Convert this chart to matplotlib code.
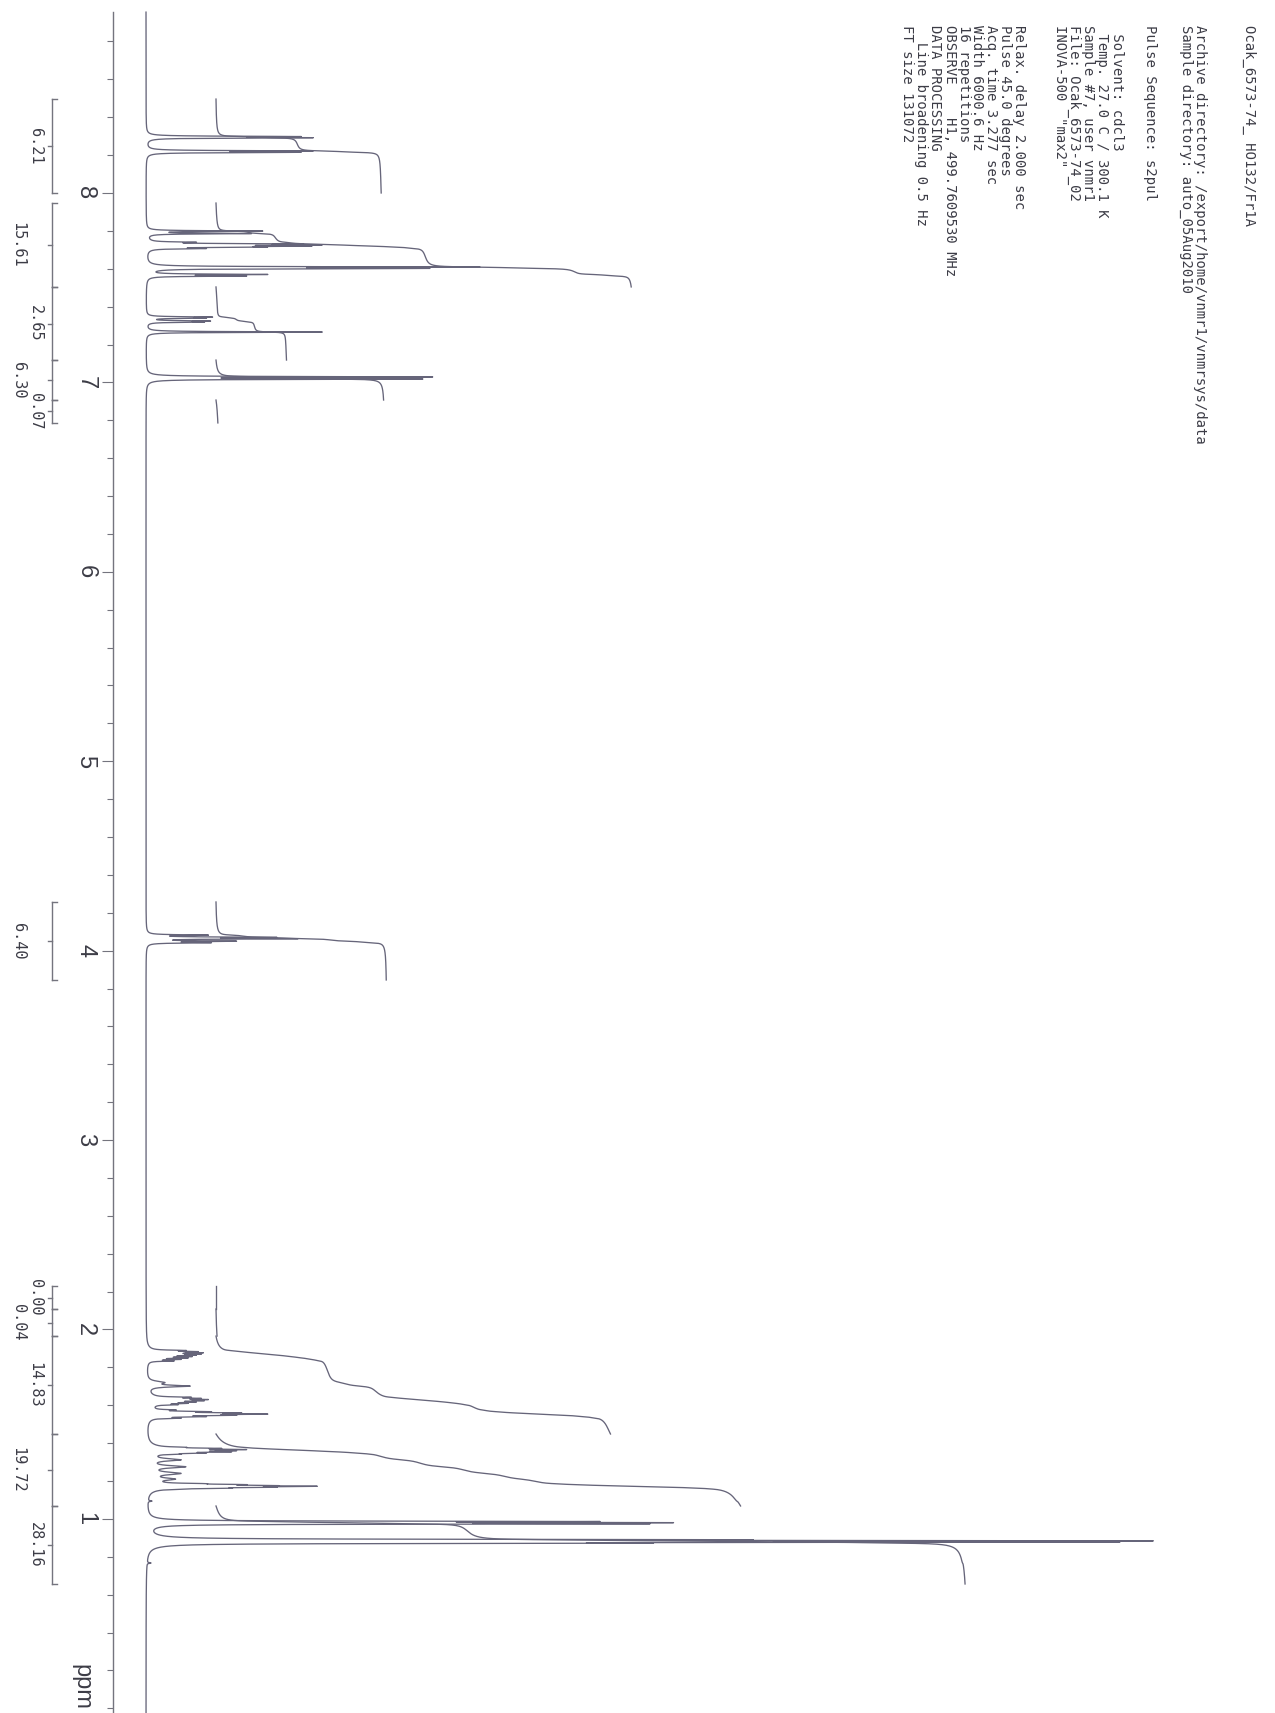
import numpy as np
import matplotlib
matplotlib.use("Agg")
import matplotlib.pyplot as plt

# ---------------------------------------------------------------------------
# Page geometry (pixels) and chemical-shift scale
# ---------------------------------------------------------------------------
W, H, DPI = 1275, 1713, 100
PPM_TOP, PPM_BOTTOM = 9.019, -0.025      # visible ppm range, top to bottom
TRACE_TOP = 8.955                        # where the plotted trace / scale begin
PX_PER_PCT = 10.07                       # horizontal pixels per % of tallest line
BASE_PX = 146                            # horizontal pixel of the spectrum baseline
AXIS_PX = 113                            # horizontal pixel of the ppm scale line

# ---------------------------------------------------------------------------
# Spectrum: sharp lines (ppm, height in % of the tallest line)
# ---------------------------------------------------------------------------
arom_ppm = [8.298, 8.292, 8.222, 8.215, 7.799, 7.786, 7.740, 7.731, 7.726,
            7.720, 7.715, 7.707, 7.609, 7.602, 7.570, 7.562, 7.345, 7.340,
            7.324, 7.319, 7.266, 7.029, 7.018]
arom_h = [15.4, 16.6, 16.6, 15.4, 11.6, 10.5, 5.0, 15.6, 17.5,
          16.5, 12.0, 6.0, 33.2, 28.2, 12.1, 10.0, 6.6, 6.0,
          6.4, 5.8, 17.5, 28.5, 27.5]

oxy_ppm = [4.082, 4.070, 4.063, 4.050, 4.042]
oxy_h = [6.2, 13.0, 15.1, 9.0, 6.5]

alkyl_ppm = [1.889, 1.883, 1.877, 1.870, 1.864, 1.857, 1.850, 1.842, 1.834,
             1.642, 1.636, 1.630, 1.624, 1.617, 1.610, 1.603,
             1.575, 1.566, 1.559, 1.553, 1.547, 1.540, 1.532,
             1.378, 1.372, 1.366, 1.360, 1.354, 1.348, 1.342,
             1.186, 1.181, 1.176, 1.172, 1.167, 1.162, 1.157,
             1.094, 0.986, 0.980, 0.974,
             0.890, 0.884, 0.878, 0.872, 0.767]
alkyl_h = [4.0, 5.2, 5.7, 5.5, 5.0, 4.6, 4.2, 3.5, 2.8,
           4.5, 5.5, 6.2, 5.8, 5.0, 4.2, 3.2,
           3.0, 6.5, 9.5, 12.1, 9.0, 6.0, 3.5,
           4.0, 7.5, 10.0, 9.0, 8.5, 6.0, 3.5,
           6.0, 10.0, 13.0, 17.0, 13.0, 8.5, 4.0,
           0.6, 45.0, 52.4, 50.0,
           60.0, 100.0, 96.7, 50.0, 0.5]

# Broad, overlapping multiplet envelopes (ppm, height %, half width ppm)
broad_ppm = [1.872, 1.720, 1.701, 1.625, 1.553, 1.365,
             1.312, 1.275, 1.240, 1.210, 1.172]
broad_h = [1.2, 1.5, 4.0, 1.8, 2.0, 2.0,
           3.0, 3.5, 3.0, 2.2, 2.0]
broad_w = [0.018, 0.008, 0.005, 0.018, 0.012, 0.018,
           0.007, 0.007, 0.008, 0.007, 0.015]

LINE_HWHM = 0.0022

# ---------------------------------------------------------------------------
# Integral regions (ppm from, ppm to) and printed integral values
# ---------------------------------------------------------------------------
int_hi = [8.496, 7.947, 7.504, 7.118, 6.907, 4.257, 2.229, 2.108, 1.965, 1.448, 1.068]
int_lo = [8.000, 7.504, 7.118, 6.907, 6.786, 3.845, 2.108, 1.965, 1.448, 1.068, 0.656]
int_val = [6.21, 15.61, 2.65, 6.30, 0.07, 6.40, 0.00, 0.04, 14.83, 19.72, 28.16]

# ppm scale ticks
major_ticks = [1, 2, 3, 4, 5, 6, 7, 8]
minor_ticks = [round(0.2 * i, 1) for i in range(45)]

# Acquisition / processing parameters printed on the page
param_lines = [
    "Ocak_6573-74_ HO132/Fr1A",
    "Archive directory: /export/home/vnmr1/vnmrsys/data",
    "Sample directory: auto_05Aug2010",
    "Pulse Sequence: s2pul",
    " Solvent: cdcl3",
    " Temp. 27.0 C / 300.1 K",
    "Sample #7, user vnmr1",
    "File: Ocak_6573-74_02",
    'INOVA-500  "max2"',
    "Relax. delay 2.000 sec",
    "Pulse 45.0 degrees",
    "Acq. time 3.277 sec",
    "Width 6000.6 Hz",
    "16 repetitions",
    "OBSERVE    H1, 499.7609530 MHz",
    "DATA PROCESSING",
    "  Line broadening 0.5 Hz",
    "FT size 131072",
]
param_x_px = [1249, 1200, 1186, 1150, 1117, 1102, 1088, 1074, 1060,
              1019, 1005, 991, 977, 964, 950, 935, 921, 907]

# ---------------------------------------------------------------------------
# Build the trace
# ---------------------------------------------------------------------------
def lorentz(x, x0, w):
    return 1.0 / (1.0 + ((x - x0) / w) ** 2)

ppm = np.linspace(TRACE_TOP, PPM_BOTTOM, 60000)

line_ppm = np.array(arom_ppm + oxy_ppm + alkyl_ppm)
line_h = np.array(arom_h + oxy_h + alkyl_h)
b_ppm, b_h, b_w = map(np.array, (broad_ppm, broad_h, broad_w))


def broad_part(x):
    x = np.atleast_1d(x)
    return (b_h[None, :] * lorentz(x[:, None], b_ppm[None, :], b_w[None, :])).sum(axis=1)


# amplitudes chosen so the summed trace reaches each listed height at its line
A = lorentz(line_ppm[:, None], line_ppm[None, :], LINE_HWHM)
amp = np.linalg.solve(A, line_h - broad_part(line_ppm))
amp = np.clip(amp, 0, None)

spec = broad_part(ppm).copy()
for p0, a in zip(line_ppm, amp):
    spec += a * lorentz(ppm, p0, LINE_HWHM)

# ---------------------------------------------------------------------------
# Figure
# ---------------------------------------------------------------------------
TRACE = "#66657a"
INK = "#3c3c46"
GRAY = "#74747e"

fig = plt.figure(figsize=(W / DPI, H / DPI), dpi=DPI)
fig.patch.set_facecolor("white")
ax = fig.add_axes([0, 0, 1, 1])
ax.set_facecolor("none")
ax.set_xlim(-BASE_PX / PX_PER_PCT, (W - BASE_PX) / PX_PER_PCT)
ax.set_ylim(PPM_BOTTOM, PPM_TOP)


def px_to_x(px):
    return (px - BASE_PX) / PX_PER_PCT


# spectrum
ax.plot(spec, ppm, color=TRACE, lw=0.95, solid_joinstyle="round")

# integral traces, one per region, scaled to the printed value
INT_OFFSET = px_to_x(216)
INT_UNIT = 26.6 / PX_PER_PCT
for hi, lo, val in zip(int_hi, int_lo, int_val):
    m = (ppm <= hi) & (ppm >= lo)
    cum = np.cumsum(spec[m])
    frac = cum / cum[-1] if cum[-1] > 0 else np.zeros_like(cum)
    ax.plot(INT_OFFSET + frac * val * INT_UNIT, ppm[m], color=TRACE, lw=0.95)

# integral brackets with values
BR_X = px_to_x(52)
END_TICK = 5 / PX_PER_PCT
MID_TICK = 4 / PX_PER_PCT
label_cols = [px_to_x(35), px_to_x(18)]
for i, (hi, lo, val) in enumerate(zip(int_hi, int_lo, int_val)):
    mid = 0.5 * (hi + lo)
    ax.plot([BR_X, BR_X], [lo, hi], color=GRAY, lw=1.0)
    for yy in (hi, lo):
        ax.plot([BR_X, BR_X + END_TICK], [yy, yy], color=GRAY, lw=1.0)
    ax.plot([BR_X - MID_TICK, BR_X], [mid, mid], color=GRAY, lw=1.0)
    ax.text(label_cols[i % 2], mid, f"{val:.2f}", rotation=-90,
            ha="center", va="center", fontsize=11, color=INK,
            family="DejaVu Sans Mono")

# ppm scale on a spine placed left of the trace
for side in ("top", "right", "bottom"):
    ax.spines[side].set_visible(False)
ax.spines["left"].set_position(("data", px_to_x(AXIS_PX)))
ax.spines["left"].set_bounds(PPM_BOTTOM, TRACE_TOP)
ax.spines["left"].set_color(GRAY)
ax.spines["left"].set_linewidth(1.0)
ax.set_xticks([])
ax.set_yticks(major_ticks)
ax.set_yticklabels([str(t) for t in major_ticks])
ax.set_yticks(minor_ticks, minor=True)
ax.tick_params(axis="y", which="major", direction="out", length=8, width=0.8,
               color=GRAY, labelsize=17, labelcolor=INK, labelrotation=-90, pad=4)
ax.tick_params(axis="y", which="minor", direction="out", length=4.5, width=0.8,
               color=GRAY)
for lab in ax.get_yticklabels():
    lab.set_fontfamily("Liberation Sans")
    lab.set_verticalalignment("center")

ax.text(px_to_x(81), 0.112, "ppm", rotation=-90, ha="center", va="center",
        fontsize=17, color=INK, family="Liberation Sans")

# acquisition parameters
for s, xp in zip(param_lines, param_x_px):
    fig.text(xp / W, 1 - 25 / H, s, rotation=-90, ha="center", va="top",
             fontsize=10, color=INK, family="DejaVu Sans Mono")

fig.savefig("out.png", dpi=DPI, facecolor="white")
